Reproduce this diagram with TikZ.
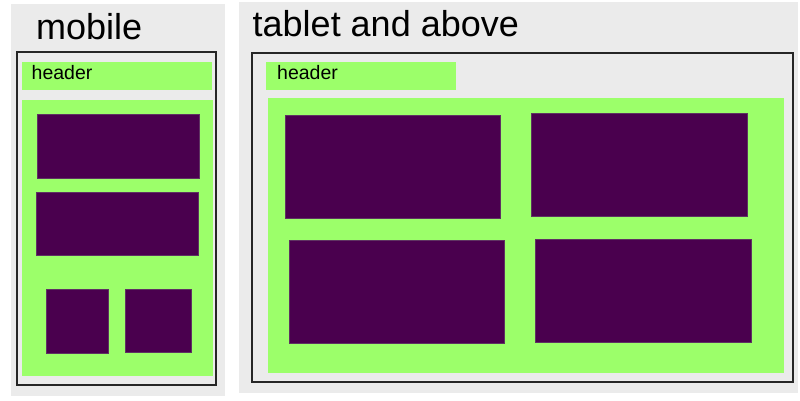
\documentclass[tikz,border=0pt]{standalone}
\usepackage{fontspec}
\setmainfont{Liberation Sans}
\definecolor{panelgray}{HTML}{EBEBEB}
\definecolor{zonegreen}{HTML}{9CFF6A}
\definecolor{tileplum}{HTML}{4A004E}

\begin{document}
\begin{tikzpicture}[x=1pt, y=-1pt, panel/.style={fill=panelgray}, frame/.style={draw=black!85, line width=1.5pt}, zone/.style={fill=zonegreen}, tile/.style={fill=tileplum, draw=tileplum!60!gray, line width=0.5pt}, title/.style={anchor=base west, inner sep=0pt, font=\fontsize{36}{36}\selectfont}, label/.style={anchor=base west, inner sep=0pt, font=\fontsize{19.5}{20}\selectfont}]
\useasboundingbox[fill=white] (0,0) rectangle (800,400);
% mobile
\fill[panel] (11,4) rectangle (225,396);
\node[title] (mtitle) at (36,39) {mobile};
\draw[frame] (17,52) rectangle (216,385);
\fill[zone] (22,62) rectangle (212,90);
\node[label] (mhead) at (31.5,79) {header};
\fill[zone] (22,100) rectangle (213,376);
\draw[tile] (37,114) rectangle (199,178);
\draw[tile] (36,192) rectangle (198,255);
\draw[tile] (46,289) rectangle (108,353);
\draw[tile] (125,289) rectangle (191,352);
% tablet and above
\fill[panel] (239,2) rectangle (798,393);
\node[title] (ttitle) at (252.5,36) {tablet and above};
\draw[frame] (252,53) rectangle (793,382);
\fill[zone] (266,62) rectangle (456,90);
\node[label] (thead) at (277,79) {header};
\fill[zone] (268,98) rectangle (784,373);
\draw[tile] (285,115) rectangle (500,218);
\draw[tile] (531,113) rectangle (747,216);
\draw[tile] (289,240) rectangle (504,343);
\draw[tile] (535,239) rectangle (751,342);
\end{tikzpicture}
\end{document}
